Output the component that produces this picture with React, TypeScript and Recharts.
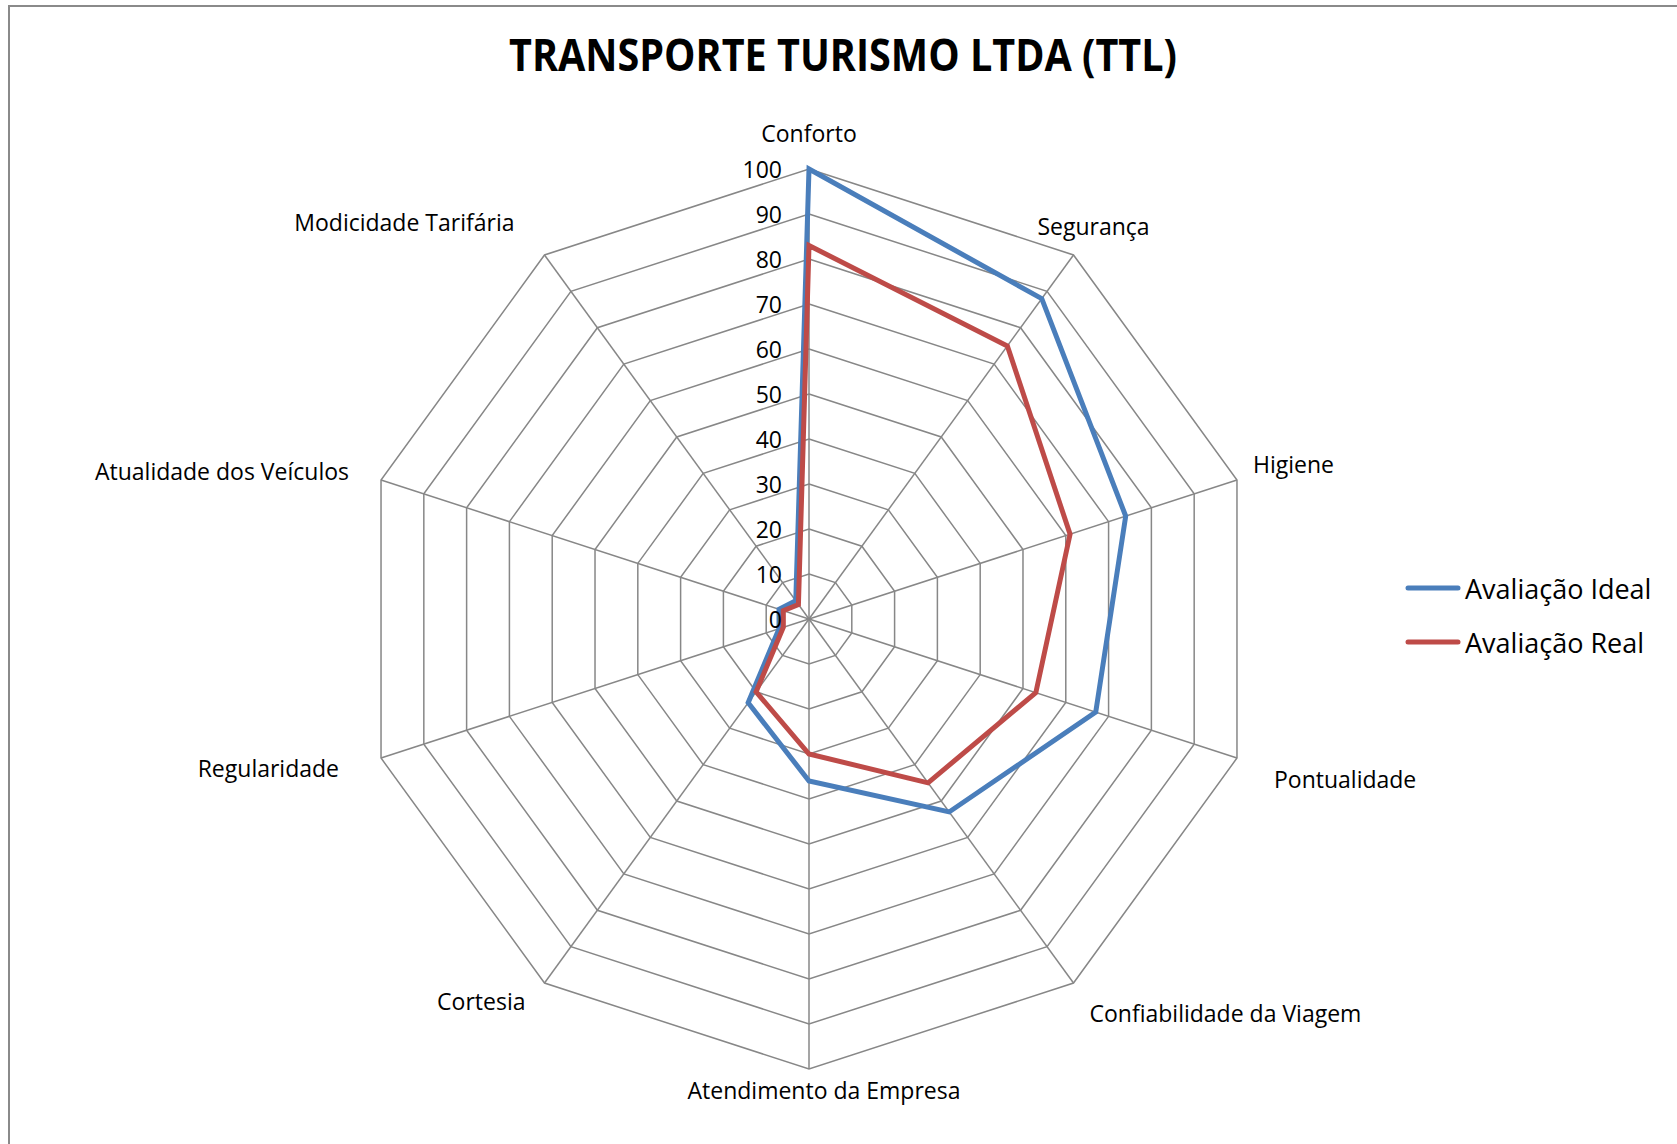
import React from 'react';
import { RadarChart, Radar, PolarGrid, PolarAngleAxis, PolarRadiusAxis, Legend } from 'recharts';

// categories go clockwise from the top
const categories = [
  'Conforto',
  'Segurança',
  'Higiene',
  'Pontualidade',
  'Confiabilidade da Viagem',
  'Atendimento da Empresa',
  'Cortesia',
  'Regularidade',
  'Atualidade dos Veículos',
  'Modicidade Tarifária',
];
const avaliacaoIdeal = [100, 88, 74, 67, 53, 36, 23, 7, 7, 5];
const avaliacaoReal = [83, 75, 61, 53, 45, 30, 20, 6, 6, 4];

const SERIES = [
  { key: 'ideal', name: 'Avaliação Ideal', color: '#4A7EBB' },
  { key: 'real', name: 'Avaliação Real', color: '#BE4B48' },
];

const data = categories.map((name, i) => ({
  name,
  ideal: avaliacaoIdeal[i],
  real: avaliacaoReal[i],
}));

const FONT = '"Open Sans", sans-serif';
const CX = 809;
const CY = 619;
const R = 450;
const TICK_SIZE = 8;

// Excel puts the category labels a bit irregularly; nudge from each outer vertex
const LABEL_NUDGE: { anchor: 'start' | 'middle' | 'end'; dx: number; dy: number }[] = [
  { anchor: 'middle', dx: 0, dy: -36 },
  { anchor: 'middle', dx: 20, dy: -29 },
  { anchor: 'start', dx: 16, dy: -16 },
  { anchor: 'start', dx: 37, dy: 21 },
  { anchor: 'start', dx: 16, dy: 30 },
  { anchor: 'middle', dx: 15, dy: 21 },
  { anchor: 'end', dx: -19, dy: 18 },
  { anchor: 'end', dx: -42, dy: 10 },
  { anchor: 'end', dx: -32, dy: -9 },
  { anchor: 'end', dx: -30, dy: -33 },
];

const AngleTick = (props: any) => {
  const { x, y, payload } = props;
  const idx = props.index ?? categories.indexOf(payload.value);
  const k = R / (R + TICK_SIZE);
  const vx = CX + (x - CX) * k;
  const vy = CY + (y - CY) * k;
  const n = LABEL_NUDGE[idx] || { anchor: 'middle', dx: 0, dy: 0 };
  return (
    <text
      x={vx + n.dx}
      y={vy + n.dy}
      textAnchor={n.anchor}
      dominantBaseline="central"
      fontFamily={FONT}
      fontSize={23}
      fill="#000"
    >
      {payload.value}
    </text>
  );
};

const RadiusTick = (props: any) => {
  const { x, y, payload } = props;
  return (
    <text
      x={x - 27}
      y={y}
      textAnchor="end"
      dominantBaseline="central"
      fontFamily={FONT}
      fontSize={23}
      fill="#000"
    >
      {payload.value}
    </text>
  );
};

const LegendContent = () => (
  <div style={{ fontFamily: FONT, fontSize: 27, color: '#000' }}>
    {SERIES.map((s) => (
      <div key={s.key} style={{ display: 'flex', alignItems: 'center', height: 54 }}>
        <svg width={56} height={10} style={{ flex: 'none' }}>
          <line x1={3} y1={5} x2={53} y2={5} stroke={s.color} strokeWidth={5} strokeLinecap="round" />
        </svg>
        <span style={{ marginLeft: 4, whiteSpace: 'nowrap' }}>{s.name}</span>
      </div>
    ))}
  </div>
);

export default function App() {
  return (
    <div style={{ position: 'absolute', left: 0, top: 0, width: 1677, height: 1144, overflow: 'hidden', background: '#fff' }}>
      <div
        style={{
          position: 'absolute',
          left: 8,
          top: 5,
          width: 1800,
          height: 1300,
          borderLeft: '2px solid #8a8a8a',
          borderTop: '2px solid #8a8a8a',
        }}
      />
      <svg width={1677} height={110} style={{ position: 'absolute', left: 0, top: 0 }}>
        <text
          x={843}
          y={53}
          textAnchor="middle"
          dominantBaseline="central"
          fontFamily={FONT}
          fontWeight={700}
          fontSize={45}
          textLength={668}
          lengthAdjust="spacingAndGlyphs"
          fill="#000"
        >
          TRANSPORTE TURISMO LTDA (TTL)
        </text>
      </svg>
      <div style={{ position: 'absolute', left: 0, top: 0 }}>
        <RadarChart
          width={1677}
          height={1144}
          data={data}
          cx={CX}
          cy={CY}
          outerRadius={R}
          margin={{ top: 0, right: 0, bottom: 0, left: 0 }}
        >
          <PolarGrid gridType="polygon" stroke="#878787" strokeWidth={1.5} />
          <PolarAngleAxis dataKey="name" tick={<AngleTick />} tickLine={false} axisLine={false} tickSize={TICK_SIZE} />
          <PolarRadiusAxis
            angle={90}
            type="number"
            domain={[0, 100]}
            tickCount={11}
            axisLine={false}
            tickLine={false}
            tick={<RadiusTick />}
          />
          {SERIES.map((s) => (
            <Radar
              key={s.key}
              name={s.name}
              dataKey={s.key}
              stroke={s.color}
              strokeWidth={5}
              fill="none"
              fillOpacity={0}
              dot={false}
              isAnimationActive={false}
            />
          ))}
          <Legend content={<LegendContent />} wrapperStyle={{ left: 1405, top: 561, width: 272 }} />
        </RadarChart>
      </div>
    </div>
  );
}
